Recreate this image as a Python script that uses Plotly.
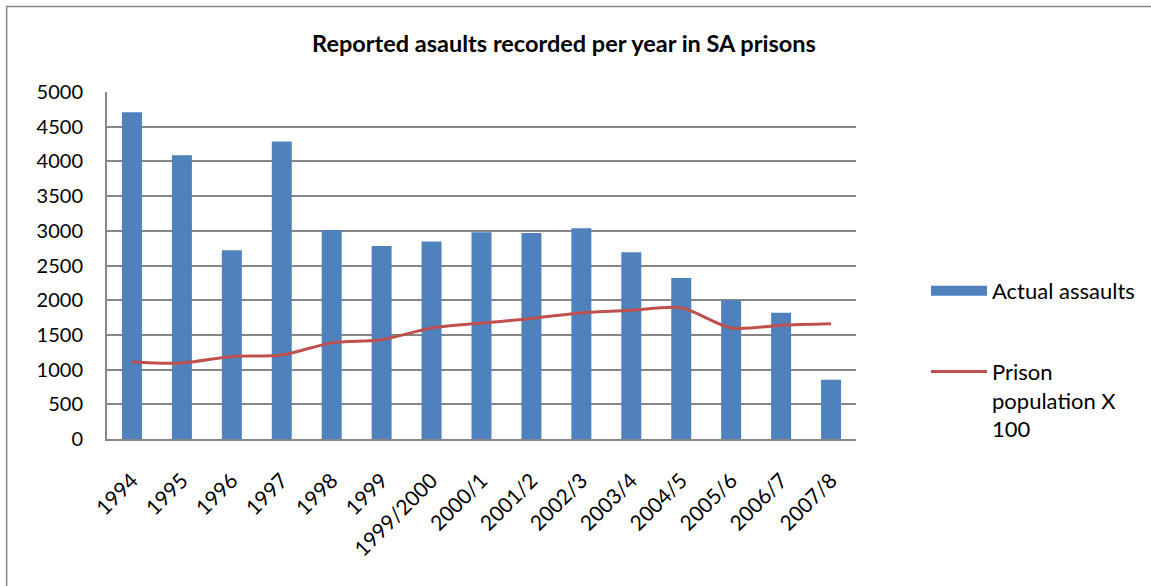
import plotly.graph_objects as go

categories = ["1994", "1995", "1996", "1997", "1998", "1999", "1999/2000", "2000/1",
              "2001/2", "2002/3", "2003/4", "2004/5", "2005/6", "2006/7", "2007/8"]
actual_assaults = [4710, 4090, 2720, 4285, 3010, 2780, 2845, 2980,
                   2970, 3035, 2690, 2320, 2000, 1820, 855]
prison_population_x100 = [1110, 1095, 1190, 1210, 1385, 1430, 1600, 1670,
                          1735, 1820, 1855, 1890, 1600, 1640, 1660]

W, H = 1151, 586
L, R, T, B = 107, 857, 92, 439

FONT = "Lato"
BLUE = "#4F81BD"
RED = "#C0504D"

fig = go.Figure()
fig.add_trace(go.Bar(
    x=categories, y=actual_assaults, name="Actual assaults",
    marker=dict(color=BLUE, line=dict(width=0)),
    showlegend=False, legendgroup="a",
))
# legend entry for the bars (wide rectangle swatch like the original)
fig.add_trace(go.Scatter(
    x=[categories[0]], y=[None], name="Actual assaults",
    mode="lines", line=dict(color=BLUE, width=14),
    legendgroup="a", hoverinfo="skip",
))
fig.add_trace(go.Scatter(
    x=categories, y=prison_population_x100, name="Prison<br>population X<br>100",
    mode="lines", line=dict(color=RED, width=3, shape="spline", smoothing=0.8),
    legendgroup="b",
))

def px2paperx(px):
    return (px - L) / (R - L)

def px2papery(py):
    return (B - py) / (B - T)

fig.update_layout(
    width=W, height=H,
    margin=dict(l=L, r=W - R, t=T, b=H - B, pad=0),
    paper_bgcolor="white", plot_bgcolor="white",
    font=dict(family=FONT, size=20, color="black"),
    title=dict(text="<b>Reported asaults recorded per year in SA prisons</b>",
               x=0.49, xanchor="center", y=1 - 44 / H, yanchor="middle",
               font=dict(family=FONT, size=23.5, color="black")),
    bargap=0.6,
    showlegend=True,
    legend=dict(x=px2paperx(926), y=px2papery(270), xanchor="left", yanchor="top",
                valign="top", tracegroupgap=49, itemwidth=56,
                font=dict(family=FONT, size=22, color="black"),
                bgcolor="rgba(0,0,0,0)"),
    xaxis=dict(showgrid=False, showline=True, linecolor="#868686", linewidth=2,
               tickangle=-45, ticks="", ticklabelstandoff=19,
               tickfont=dict(family=FONT, size=21, color="black")),
    yaxis=dict(range=[0, 5000], dtick=500, showgrid=True, gridcolor="#868686", gridwidth=1.5,
               showline=True, linecolor="#868686", linewidth=2, ticks="",
               ticklabelstandoff=18, zeroline=False,
               tickfont=dict(family=FONT, size=20, color="black")),
    shapes=[dict(type="rect", xref="paper", yref="paper",
                 x0=px2paperx(6.5), x1=px2paperx(1170), y0=px2papery(610), y1=px2papery(6.5),
                 line=dict(color="#868686", width=1.5), fillcolor="rgba(0,0,0,0)", layer="below")],
)

fig.write_html("out.html", config={"displayModeBar": False},
               post_script="document.body.style.margin='0';document.body.style.overflow='hidden';")
